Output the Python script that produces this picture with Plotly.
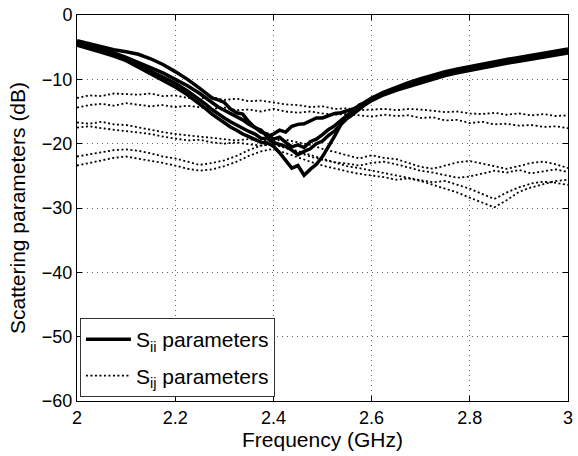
import plotly.graph_objects as go

# Frequency sweep (GHz) for the coupling measurements
freq_ghz = [2.000, 2.025, 2.050, 2.075, 2.100, 2.125, 2.150, 2.175, 2.200, 2.225,
            2.250, 2.275, 2.300, 2.325, 2.350, 2.375, 2.400, 2.425, 2.450, 2.475,
            2.500, 2.525, 2.550, 2.575, 2.600, 2.625, 2.650, 2.675, 2.700, 2.725,
            2.750, 2.775, 2.800, 2.825, 2.850, 2.875, 2.900, 2.925, 2.950, 2.975,
            3.000]

# Frequency points (GHz) for the reflection measurements, denser around resonance
freq_sii_ghz = [2.000, 2.025, 2.050, 2.075, 2.100, 2.125, 2.150, 2.175, 2.200, 2.225,
                2.250, 2.2625, 2.275, 2.2875, 2.300, 2.3125, 2.325, 2.3375, 2.350, 2.3625,
                2.375, 2.3875, 2.400, 2.4125, 2.425, 2.4375, 2.450, 2.4625, 2.475, 2.4875,
                2.500, 2.5125, 2.525, 2.5375, 2.550, 2.5625, 2.575, 2.5875, 2.600, 2.625,
                2.650, 2.675, 2.700, 2.725, 2.750, 2.775, 2.800, 2.825, 2.850, 2.875,
                2.900, 2.925, 2.950, 2.975, 3.000]

# Reflection coefficients S_ii (dB)
s11_db = [-4.0, -4.5, -5.0, -5.4, -5.7, -6.1, -6.8, -7.7, -8.8, -10.0,
          -11.4, -12.2, -12.9, -13.2, -13.6, -14.6, -15.2, -15.4, -16.6, -17.5,
          -17.9, -18.9, -18.5, -17.9, -18.2, -17.3, -17.0, -16.9, -16.4, -16.0,
          -16.0, -15.6, -15.3, -15.2, -14.9, -14.6, -14.1, -13.5, -12.9, -12.0,
          -11.2, -10.5, -9.9, -9.3, -8.8, -8.4, -8.0, -7.6, -7.2, -6.9,
          -6.6, -6.3, -6.0, -5.7, -5.3]
s22_db = [-4.3, -4.8, -5.3, -5.9, -6.6, -7.4, -8.2, -9.0, -10.0, -11.0,
          -12.2, -12.9, -13.7, -14.3, -14.8, -15.3, -15.9, -16.3, -17.0, -17.5,
          -18.2, -18.5, -19.3, -19.0, -19.8, -20.5, -20.2, -20.6, -19.7, -19.3,
          -18.6, -17.8, -17.2, -16.4, -15.6, -15.0, -14.4, -13.8, -13.1, -12.2,
          -11.5, -10.9, -10.3, -9.7, -9.2, -8.8, -8.4, -8.0, -7.6, -7.3,
          -7.0, -6.7, -6.4, -6.1, -5.7]
s33_db = [-4.5, -5.0, -5.6, -6.2, -6.9, -7.8, -8.7, -9.6, -10.6, -11.8,
          -13.1, -13.9, -14.7, -15.4, -16.0, -16.6, -17.1, -17.7, -18.1, -18.5,
          -19.2, -19.2, -19.8, -20.1, -20.4, -21.0, -21.7, -21.2, -20.8, -20.0,
          -19.6, -18.7, -18.0, -17.0, -16.1, -15.4, -14.6, -13.9, -13.3, -12.4,
          -11.7, -11.1, -10.5, -9.9, -9.4, -9.0, -8.6, -8.2, -7.8, -7.5,
          -7.2, -6.9, -6.6, -6.3, -5.9]
s44_db = [-4.7, -5.2, -5.8, -6.4, -7.1, -8.1, -9.1, -10.1, -11.2, -12.4,
          -13.8, -14.6, -15.4, -16.1, -16.8, -17.4, -17.9, -18.5, -18.9, -19.3,
          -19.8, -19.9, -20.4, -21.4, -22.7, -23.8, -23.4, -24.9, -24.0, -23.2,
          -22.0, -20.5, -18.8, -17.0, -15.6, -14.9, -14.0, -13.6, -13.0, -12.1,
          -11.4, -10.8, -10.2, -9.6, -9.1, -8.7, -8.3, -7.9, -7.5, -7.2,
          -6.9, -6.6, -6.3, -6.0, -5.6]

# Coupling coefficients S_ij (dB)
s12_db = [-12.9, -12.5, -12.6, -12.2, -12.3, -12.4, -12.2, -12.6, -12.5, -12.9,
          -13.0, -12.8, -13.2, -13.0, -13.4, -13.3, -13.6, -13.9, -14.0, -14.3,
          -14.2, -14.6, -14.5, -14.8, -14.7, -14.6, -14.8, -14.6, -14.7, -14.9,
          -15.1, -15.0, -15.3, -15.4, -15.2, -15.5, -15.3, -15.6, -15.4, -15.7,
          -15.6]
s34_db = [-14.4, -14.0, -13.8, -14.1, -13.7, -14.0, -14.2, -14.0, -14.3, -14.1,
          -14.4, -14.6, -14.4, -14.8, -14.7, -15.0, -14.6, -15.0, -15.2, -15.0,
          -15.3, -15.5, -15.4, -15.6, -15.8, -15.5, -15.7, -15.6, -16.0, -15.9,
          -16.4, -16.3, -16.8, -16.6, -17.0, -16.9, -17.2, -17.1, -17.4, -17.3,
          -17.6]
s13_db = [-16.7, -16.9, -16.6, -17.0, -17.1, -17.5, -17.8, -18.2, -18.5, -18.7,
          -18.9, -19.1, -19.2, -19.5, -19.3, -19.6, -19.5, -19.4, -19.8, -20.2,
          -20.8, -21.3, -21.9, -22.3, -21.8, -22.2, -22.4, -23.0, -23.6, -23.9,
          -23.4, -22.9, -22.7, -23.1, -23.6, -23.9, -23.5, -23.0, -22.8, -23.2,
          -23.8]
s24_db = [-17.5, -17.3, -17.6, -17.8, -18.0, -18.3, -18.5, -18.9, -19.2, -19.5,
          -19.4, -19.8, -20.0, -19.8, -20.1, -20.3, -20.0, -20.6, -21.2, -21.8,
          -22.4, -22.9, -23.5, -23.8, -24.2, -24.6, -25.0, -25.3, -25.7, -26.0,
          -25.8, -26.4, -27.0, -27.8, -28.6, -27.6, -26.8, -26.2, -25.9, -26.1,
          -26.4]
s14_db = [-22.0, -21.7, -21.3, -21.0, -20.9, -21.1, -21.5, -22.0, -22.3, -22.8,
          -23.3, -23.0, -22.6, -21.9, -21.0, -20.3, -20.1, -20.7, -21.4, -22.0,
          -22.5, -22.9, -23.1, -23.4, -23.0, -22.8, -23.2, -23.7, -24.2, -24.5,
          -24.9, -25.3, -25.1, -24.6, -24.2, -24.5, -24.1, -24.6, -24.3, -24.0,
          -24.4]
s23_db = [-23.4, -23.0, -22.5, -22.2, -22.0, -22.3, -22.6, -23.0, -23.4, -23.9,
          -24.2, -24.0, -23.5, -22.8, -21.9, -21.2, -20.8, -21.5, -22.2, -22.8,
          -23.4, -23.9, -24.3, -24.7, -24.9, -25.2, -25.6, -25.4, -25.8, -26.4,
          -27.0, -27.6, -28.4, -29.2, -29.9, -28.8, -27.5, -26.8, -26.3, -25.8,
          -25.6]

reflection = [s11_db, s22_db, s33_db, s44_db]
coupling = [s12_db, s34_db, s13_db, s24_db, s14_db, s23_db]

x_ticks = [2, 2.2, 2.4, 2.6, 2.8, 3]
y_ticks = [-60, -50, -40, -30, -20, -10, 0]

fig = go.Figure()

for k, vals in enumerate(coupling):
    fig.add_trace(go.Scatter(
        x=freq_ghz, y=vals, mode="lines",
        line=dict(color="black", width=1.8, dash="2px,2.5px"),
        name="S<sub>ij</sub> parameters", legendgroup="sij",
        showlegend=(k == 0), legendrank=2,
    ))

for k, vals in enumerate(reflection):
    fig.add_trace(go.Scatter(
        x=freq_sii_ghz, y=vals, mode="lines",
        line=dict(color="black", width=3.5),
        name="S<sub>ii</sub> parameters", legendgroup="sii",
        showlegend=(k == 0), legendrank=1,
    ))

axis_style = dict(
    showline=True, linecolor="black", linewidth=1, mirror="ticks",
    ticks="inside", ticklen=5, tickcolor="black", tickwidth=1,
    showgrid=True, gridcolor="#666", gridwidth=1, griddash="1px,4px",
    zeroline=False, tickfont=dict(size=18),
)

fig.update_layout(
    width=578, height=456,
    margin=dict(l=77, r=5, t=12, b=55),
    paper_bgcolor="white", plot_bgcolor="white",
    font=dict(family="Liberation Sans, Arial, Helvetica, sans-serif",
              color="black", size=18),
    xaxis=dict(range=[2, 3], tickvals=x_ticks, ticktext=[str(t) for t in x_ticks],
               title=dict(text="Frequency (GHz)", font=dict(size=21), standoff=5),
               **axis_style),
    yaxis=dict(range=[-60, 0], tickvals=y_ticks,
               title=dict(text="Scattering parameters (dB)", font=dict(size=21), standoff=10),
               **axis_style),
    legend=dict(
        x=0.006, y=0.01, xanchor="left", yanchor="bottom",
        bgcolor="white", bordercolor="#333", borderwidth=1,
        font=dict(size=21), itemwidth=45, tracegroupgap=6,
    ),
    showlegend=True,
)

fig.write_html("out.html")
